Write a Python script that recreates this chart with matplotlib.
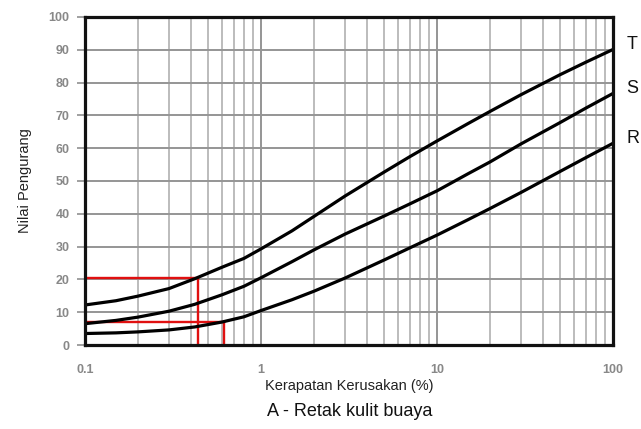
import matplotlib
matplotlib.use('Agg')
import matplotlib.pyplot as plt
from matplotlib.ticker import LogLocator, NullFormatter

plt.rcParams['font.family'] = ['Liberation Sans', 'DejaVu Sans']

# kerapatan (%) and deduct values
density = [0.1, 0.15, 0.2, 0.3, 0.42, 0.6, 0.8, 1, 1.5, 2, 3, 5, 7, 10, 15, 20, 30, 50, 70, 100]
curve_t = [12.2, 13.5, 14.9, 17.2, 20.2, 23.7, 26.4, 29.3, 34.8, 39.2, 45.4, 52.7, 57.4, 62.2,
           67.5, 71.2, 76.3, 82.4, 86.2, 90.1]
curve_s = [6.5, 7.5, 8.5, 10.3, 12.4, 15.3, 17.9, 20.5, 25.4, 29.0, 33.8, 39.3, 43.0, 47.0,
           52.2, 55.8, 61.3, 67.8, 72.2, 76.7]
curve_r = [3.5, 3.7, 4.0, 4.6, 5.5, 7.0, 8.6, 10.5, 13.8, 16.4, 20.4, 25.9, 29.6, 33.5,
           38.2, 41.6, 46.5, 52.9, 57.1, 61.5]
curve_names = ['T', 'S', 'R']

# red reading lines: (density, deduct value)
red_readings = [(0.44, 20.3), (0.62, 7.1)]

x_ticks = [0.1, 1, 10, 100]
x_ticklabels = ['0.1', '1', '10', '100']
y_ticks = list(range(0, 101, 10))

fig = plt.figure(figsize=(6.41, 4.29), dpi=100)
ax = fig.add_axes([0.1326, 0.1958, 0.8237, 0.7646])

ax.set_xscale('log')
ax.set_xlim(0.1, 100)
ax.set_ylim(0, 100)

# grid like the printed log paper
ax.xaxis.set_minor_locator(LogLocator(base=10, subs=range(2, 10)))
ax.xaxis.set_minor_formatter(NullFormatter())
ax.grid(True, which='major', axis='both', color='#959595', linewidth=1.4, zorder=0)
ax.grid(True, which='minor', axis='x', color='#aaaaaa', linewidth=1.1, zorder=0)

for ys, name in zip([curve_t, curve_s, curve_r], curve_names):
    ax.plot(density, ys, color='black', linewidth=2.3, zorder=4, solid_joinstyle='round')
    ax.text(1.025, (ys[-1] + 1.5) / 100, name, transform=ax.transAxes, ha='left', va='center',
            fontsize=13, color='#111111')

for xr, yr in red_readings:
    ax.plot([0.1, xr], [yr, yr], color='#e01010', linewidth=1.7, zorder=3)
    ax.plot([xr, xr], [0, yr], color='#e01010', linewidth=1.7, zorder=3)

ax.set_xticks(x_ticks)
ax.set_xticklabels(x_ticklabels)
ax.set_yticks(y_ticks)
ax.tick_params(axis='x', which='both', length=0, pad=14, labelsize=9, labelcolor='#888888')
ax.tick_params(axis='y', length=6, width=1.3, color='#999999', pad=5, labelsize=9, labelcolor='#888888')
for lab in ax.get_xticklabels() + ax.get_yticklabels():
    lab.set_fontweight('bold')

for sp in ax.spines.values():
    sp.set_linewidth(2.3)
    sp.set_color('#111111')
    sp.set_zorder(5)

ax.set_ylabel('Nilai Pengurang', fontsize=10.5, labelpad=12, color='#222222')
ax.set_xlabel('Kerapatan Kerusakan (%)', fontsize=10.5, labelpad=2, color='#222222')
fig.text(0.545, 0.04, 'A - Retak kulit buaya', ha='center', va='center', fontsize=13, color='#111111')

fig.savefig('out.png', dpi=100, facecolor='white')
plt.close()
